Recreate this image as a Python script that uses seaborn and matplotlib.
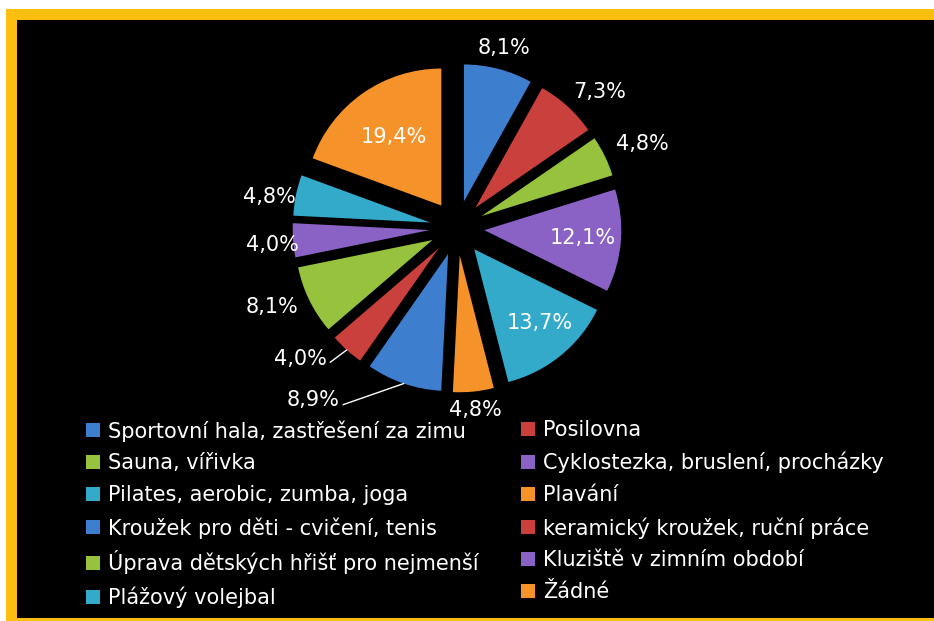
import numpy as np
import seaborn as sns
import matplotlib.pyplot as plt
from matplotlib.patches import Patch, Rectangle

# data
categories = [
    "Sportovní hala, zastřešení za zimu",
    "Posilovna",
    "Sauna, vířivka",
    "Cyklostezka, bruslení, procházky",
    "Pilates, aerobic, zumba, joga",
    "Plavání",
    "Kroužek pro děti - cvičení, tenis",
    "keramický kroužek, ruční práce",
    "Úprava dětských hřišť pro nejmenší",
    "Kluziště v zimním období",
    "Plážový volejbal",
    "Žádné",
]
shares = [8.1, 7.3, 4.8, 12.1, 13.7, 4.8, 8.9, 4.0, 8.1, 4.0, 4.8, 19.4]

base_colors = ["#3d7ecf", "#c9403c", "#97c23e", "#8a62c5", "#34aacb", "#f5922a"]
palette = sns.color_palette(base_colors * 2)

# label placement (distance from centre in px, angle nudge in degrees)
label_px = [186, 197, 204, 126, 126, 183, 224, 204, 201, 185, 190, 111]
label_shift = [0, -4, -1.5, 0, 2, 0, -21, -8, -3, 1, 2, 0]
leaders = [6, 7]

sns.set_theme(style="dark")
plt.rcParams["font.family"] = ["DejaVu Sans"]
FS = 15

fig = plt.figure(figsize=(9.34, 6.21), dpi=100, facecolor="white")
W, H = 934, 621

# orange frame and black panel
fig.add_artist(Rectangle((6 / W, 0), 1, 1 - 9 / H, transform=fig.transFigure,
                         facecolor="#fcbf10", edgecolor="none", zorder=-10))
fig.add_artist(Rectangle((17 / W, 3 / H), 1, 1 - 23 / H, transform=fig.transFigure,
                         facecolor="black", edgecolor="none", zorder=-9))

# pie axes: centre (457, 228) px, radius 137 px, slices pulled out by 0.2 R
cx, cy, R, half = 457, 228, 137, 200
ax = fig.add_axes([(cx - half) / W, (H - cy - half) / H, 2 * half / W, 2 * half / H])
ax.set_facecolor("none")

wedges, _ = ax.pie(shares, colors=palette, startangle=90, counterclock=False,
                   explode=[0.2] * len(shares), radius=1,
                   wedgeprops=dict(linewidth=0))
ax.set_xlim(-half / R, half / R)
ax.set_ylim(-half / R, half / R)
ax.set_aspect("equal")
ax.axis("off")

for i, (w, v) in enumerate(zip(wedges, shares)):
    mid = np.deg2rad((w.theta1 + w.theta2) / 2)
    ang = mid + np.deg2rad(label_shift[i])
    d = label_px[i] / R
    txt = f"{v:.1f}".replace(".", ",") + "%"
    pos = (d * np.cos(ang), d * np.sin(ang))
    if i in leaders:
        edge = (w.center[0] + np.cos(mid), w.center[1] + np.sin(mid))
        ax.annotate(txt, xy=edge, xytext=pos, ha="center", va="center",
                    color="white", fontsize=FS,
                    arrowprops=dict(arrowstyle="-", color="white", lw=1,
                                    shrinkA=0, shrinkB=0, relpos=(1, 0.2)))
    else:
        ax.text(pos[0], pos[1], txt, ha="center", va="center",
                color="white", fontsize=FS)

# legend in two columns, filled row by row
handles = [Patch(facecolor=c, edgecolor="none") for c in palette]
col_x = [86, 521]
for k in range(2):
    idx = list(range(k, len(categories), 2))
    fig.legend([handles[j] for j in idx], [categories[j] for j in idx],
               loc="upper left", bbox_to_anchor=(col_x[k] / W, 1 - 420 / H),
               frameon=False, fontsize=FS, labelcolor="white",
               handlelength=0.65, handleheight=0.65, handletextpad=0.4,
               labelspacing=0.57, borderpad=0, borderaxespad=0)

fig.savefig("out.png", dpi=100, facecolor="white")
